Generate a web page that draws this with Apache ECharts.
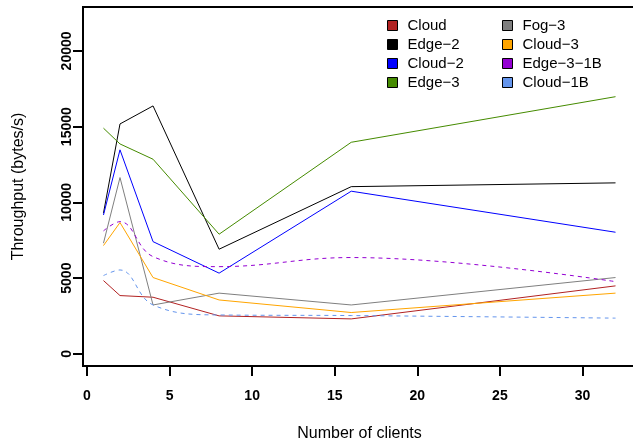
<!DOCTYPE html>
<html>
<head>
<meta charset="utf-8">
<script src="https://cdn.jsdelivr.net/npm/echarts@6/dist/echarts.min.js"></script>
<style>
  html, body { margin: 0; padding: 0; background: #fff; }
  #chart { width: 633px; height: 443px; }
</style>
</head>
<body>
<div id="chart"></div>
<script>
// Number of clients on the x axis
const clients = [1, 2, 4, 8, 16, 32];

// Throughput (bytes/s) per deployment
const cloud      = [4840, 3850, 3740, 2510, 2310, 4490];
const edge2      = [9290, 15180, 16370, 6910, 11040, 11290];
const cloud2     = [9170, 13470, 7410, 5330, 10740, 8030];
const edge3      = [14900, 13860, 12850, 7900, 13970, 16980];
const fog3       = [7310, 11640, 3230, 4010, 3230, 5040];
const cloud3     = [7150, 8670, 5040, 3560, 2730, 4010];
const edge31B    = [8120, 8730, 6420, 5760, 6360, 4770];
const cloud1B    = [5170, 5540, 3230, 2570, 2530, 2360];

// Tick marks
const xTicks = [0, 5, 10, 15, 20, 25, 30];
const yTicks = [0, 5000, 10000, 15000, 20000];

const seriesNames = ['Cloud', 'Edge\u22122', 'Cloud\u22122', 'Edge\u22123',
                     'Fog\u22123', 'Cloud\u22123', 'Edge\u22123\u22121B', 'Cloud\u22121B'];
const seriesValues = [cloud, edge2, cloud2, edge3, fog3, cloud3, edge31B, cloud1B];
const seriesColors = ['#B22222', '#000000', '#0000FF', '#458B00',
                      '#7F7F7F', '#FFA500', '#9400D3', '#6495ED'];
const dashed = [false, false, false, false, false, false, true, true];

const FONT = '"Liberation Sans", Arial, Helvetica, sans-serif';

const series = seriesNames.map((name, i) => ({
  name: name,
  type: 'line',
  data: clients.map((c, j) => [c, seriesValues[i][j]]),
  symbol: 'none',
  smooth: dashed[i] ? 0.4 : false,
  color: seriesColors[i],
  lineStyle: { color: seriesColors[i], width: 1, type: dashed[i] ? [4, 4] : 'solid' },
  emphasis: { disabled: true }
}));

const legendBase = {
  orient: 'vertical',
  top: 11,
  itemGap: 0,
  itemWidth: 10,
  itemHeight: 10,
  icon: 'rect',
  selectedMode: false,
  itemStyle: { borderColor: '#000', borderWidth: 1, borderType: 'solid' },
  textStyle: { fontFamily: FONT, fontSize: 15, color: '#000', lineHeight: 19, padding: [0, 0, 0, 5] }
};

const chart = echarts.init(document.getElementById('chart'), null, { renderer: 'canvas' });
chart.setOption({
  animation: false,
  backgroundColor: '#fff',
  grid: {
    left: 83, top: 7, width: 553, height: 359,
    outerBoundsMode: 'none',
    containLabel: false,
    show: true, borderColor: '#000', borderWidth: 2, backgroundColor: 'transparent'
  },
  legend: [
    Object.assign({}, legendBase, { left: 382, data: seriesNames.slice(0, 4) }),
    Object.assign({}, legendBase, { left: 497, data: seriesNames.slice(4) })
  ],
  xAxis: {
    type: 'value',
    min: -0.24, max: 33.24,
    name: 'Number of clients',
    nameLocation: 'middle',
    nameGap: 60,
    nameTextStyle: { fontFamily: FONT, fontSize: 16, color: '#000' },
    axisLine: { show: false, onZero: false },
    axisTick: { show: true, length: 10, customValues: xTicks, lineStyle: { color: '#000', width: 2 } },
    axisLabel: { customValues: xTicks, margin: 23, fontFamily: FONT, fontSize: 14, fontWeight: 'bold', color: '#000' },
    splitLine: { show: false }
  },
  yAxis: {
    type: 'value',
    min: -800, max: 22900,
    name: 'Throughput (bytes/s)',
    nameLocation: 'middle',
    nameRotate: 90,
    nameGap: 56,
    nameTextStyle: { fontFamily: FONT, fontSize: 16, color: '#000' },
    axisLine: { show: false, onZero: false },
    axisTick: { show: true, length: 10, customValues: yTicks, lineStyle: { color: '#000', width: 2 } },
    axisLabel: {
      customValues: yTicks, rotate: 90, margin: 9,
      formatter: v => String(v),
      fontFamily: FONT, fontSize: 14, fontWeight: 'bold', color: '#000'
    },
    splitLine: { show: false }
  },
  series: series
});
</script>
</body>
</html>
